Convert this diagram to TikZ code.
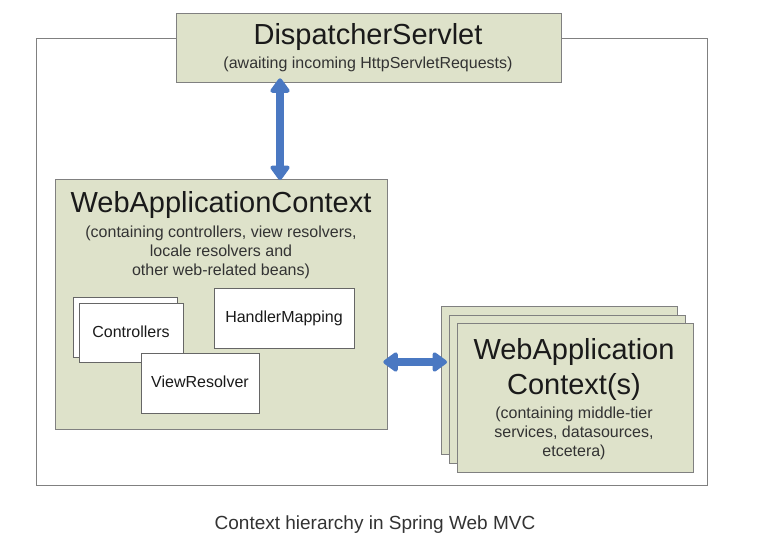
\documentclass[tikz,border=0pt]{standalone}
\usepackage{fontspec}
\setmainfont{Liberation Sans}
\usetikzlibrary{arrows.meta}
\definecolor{boxfill}{HTML}{DEE2CA}
\definecolor{boxline}{HTML}{808080}
\definecolor{arrblue}{HTML}{4A78C2}
\definecolor{txt}{HTML}{1A1A1A}
\definecolor{captxt}{HTML}{333333}
\tikzset{
  ctxbox/.style={draw=boxline, line width=1.3pt, fill=boxfill, anchor=north west, inner sep=0pt},
  beanbox/.style={draw=boxline!80!black, line width=1pt, fill=white, anchor=north west, inner sep=0pt},
  bigtitle/.style={font=\fontsize{29}{35}\selectfont, text=txt, inner sep=0pt, align=center},
  subtxt/.style={font=\fontsize{16}{19}\selectfont, text=captxt, inner sep=0pt, align=center},
  beantxt/.style={font=\fontsize{16}{19}\selectfont, text=txt, inner sep=0pt},
  arr/.style={draw=arrblue, line width=8pt, {Triangle[round, length=16pt, width=22pt]}-{Triangle[round, length=16pt, width=22pt]}}
}
\begin{document}
\begin{tikzpicture}[x=1pt, y=-1pt]
\useasboundingbox (0,0) rectangle (763,536);
% outer frame
\node[draw=boxline, line width=1pt, anchor=north west, minimum width=671pt, minimum height=447pt, inner sep=0pt] (frame) at (36,38) {};
% DispatcherServlet
\node[ctxbox, minimum width=385pt, minimum height=69pt] (ds) at (176,13) {};
\node[bigtitle] (dst) at (368,37) {DispatcherServlet};
\node[subtxt] (dss) at (368,64) {(awaiting incoming HttpServletRequests)};
% WebApplicationContext
\node[ctxbox, minimum width=332pt, minimum height=250pt] (wac) at (55,179) {};
\node[bigtitle] (wact) at (221,205) {WebApplicationContext};
\node[subtxt] (wacs) at (221,252) {(containing controllers, view resolvers,\\locale resolvers and\\other web-related beans)};
% beans
\node[beanbox, minimum width=104pt, minimum height=60pt] (ctrlb) at (73,297) {};
\node[beanbox, minimum width=104pt, minimum height=59pt] (ctrl) at (79,303) {};
\node[beantxt] (ctrlt) at (131,332) {Controllers};
\node[beanbox, minimum width=140pt, minimum height=60pt] (hm) at (214,288) {};
\node[beantxt] (hmt) at (284,318) {HandlerMapping};
\node[beanbox, minimum width=118pt, minimum height=60pt] (vr) at (141,353) {};
\node[beantxt] (vrt) at (200,382) {ViewResolver};
% stacked contexts
\node[ctxbox, minimum width=236pt, minimum height=148pt] (st3) at (441,306) {};
\node[ctxbox, minimum width=236pt, minimum height=148pt] (st2) at (449,315) {};
\node[ctxbox, minimum width=236pt, minimum height=149pt] (st1) at (457,323) {};
\node[bigtitle] (stt) at (574,369) {WebApplication\\Context(s)};
\node[subtxt] (sts) at (574,433) {(containing middle-tier\\services, datasources,\\etcetera)};
% arrows
\coordinate (vx) at (280,0);
\coordinate (hy) at (0,362);
\draw[arr, shorten <=-5pt, shorten >=-1pt] (vx |- ds.south) -- (vx |- wac.north);
\draw[arr, shorten <=-5pt, shorten >=-6pt] (wac.east |- hy) -- (st3.west |- hy);
% caption
\node[font=\fontsize{19}{23}\selectfont, text=captxt, inner sep=0pt] (cap) at (375,525) {Context hierarchy in Spring Web MVC};
\end{tikzpicture}
\end{document}
